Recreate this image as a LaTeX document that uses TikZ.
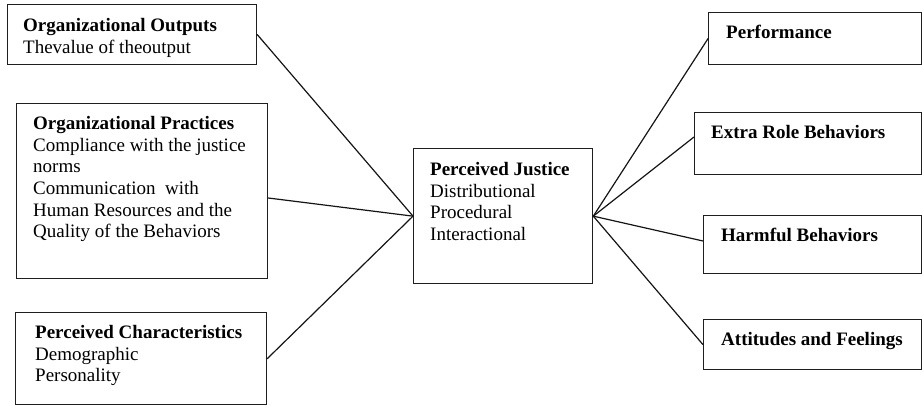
\documentclass[tikz,border=0pt]{standalone}
\usepackage{fontspec}
\setmainfont{Liberation Serif}
\usetikzlibrary{calc}

\tikzset{
  box/.style={draw=black!88, line width=1.3pt, rectangle, inner sep=0pt,
              anchor=north west, fill=white},
  label/.style={anchor=north west, inner sep=0pt, align=left,
                font=\fontsize{19}{21.7}\selectfont, text=black},
  link/.style={draw=black!92, line width=1.2pt, line cap=round}
}

\begin{document}
\begin{tikzpicture}[x=1pt, y=-1pt]
  \useasboundingbox (0,0) rectangle (922,406);

  % left-hand antecedent boxes
  \node[box, minimum width=249pt, minimum height=60pt]  (outputs)   at (7,4)   {};
  \node[box, minimum width=251pt, minimum height=175pt] (practices) at (16,103) {};
  \node[box, minimum width=251pt, minimum height=92pt]  (charact)   at (15,312) {};

  % central construct
  \node[box, minimum width=179pt, minimum height=135pt] (justice)   at (413,148) {};

  % right-hand outcome boxes
  \node[box, minimum width=213pt, minimum height=52pt]  (perf)      at (708,12)  {};
  \node[box, minimum width=227pt, minimum height=62pt]  (extra)     at (694,112) {};
  \node[box, minimum width=218pt, minimum height=58pt]  (harm)      at (703,215) {};
  \node[box, minimum width=218pt, minimum height=50pt]  (attit)     at (703,319) {};

  % box texts
  \node[label] (toutputs) at ($(outputs.north west)+(16,12)$)
    {\strut\textbf{Organizational Outputs}\\Thevalue of theoutput};
  \node[label] (tpractices) at ($(practices.north west)+(17,11)$)
    {\strut\textbf{Organizational Practices}\\Compliance with the justice\\norms\\Communication\ \ with\\Human Resources and the\\Quality of the Behaviors};
  \node[label] (tcharact) at ($(charact.north west)+(20,11)$)
    {\strut\textbf{Perceived Characteristics}\\Demographic\\Personality};
  \node[label] (tjustice) at ($(justice.north west)+(17,12)$)
    {\strut\textbf{Perceived Justice}\\Distributional\\Procedural\\Interactional};
  \node[label] (tperf) at ($(perf.north west)+(18,11)$)
    {\strut\textbf{Performance}};
  \node[label] (textra) at ($(extra.north west)+(17,11)$)
    {\strut\textbf{Extra Role Behaviors}};
  \node[label] (tharm) at ($(harm.north west)+(18,11.5)$)
    {\strut\textbf{Harmful Behaviors}};
  \node[label] (tattit) at ($(attit.north west)+(18,11.5)$)
    {\strut\textbf{Attitudes and Feelings}};

  % connectors into and out of the central box
  \coordinate (jin)  at (justice.west);
  \coordinate (jout) at (justice.east);

  \draw[link] (outputs.east) -- (jin);
  \draw[link] ($(practices.north east)+(0,95)$) -- (jin);
  \draw[link] (charact.east) -- (jin);

  \draw[link] (jout) -- (perf.west);
  \draw[link] (jout) -- ($(extra.north west)+(0,25)$);
  \draw[link] (jout) -- ($(harm.north west)+(0,26)$);
  \draw[link] (jout) -- (attit.west);
\end{tikzpicture}
\end{document}
